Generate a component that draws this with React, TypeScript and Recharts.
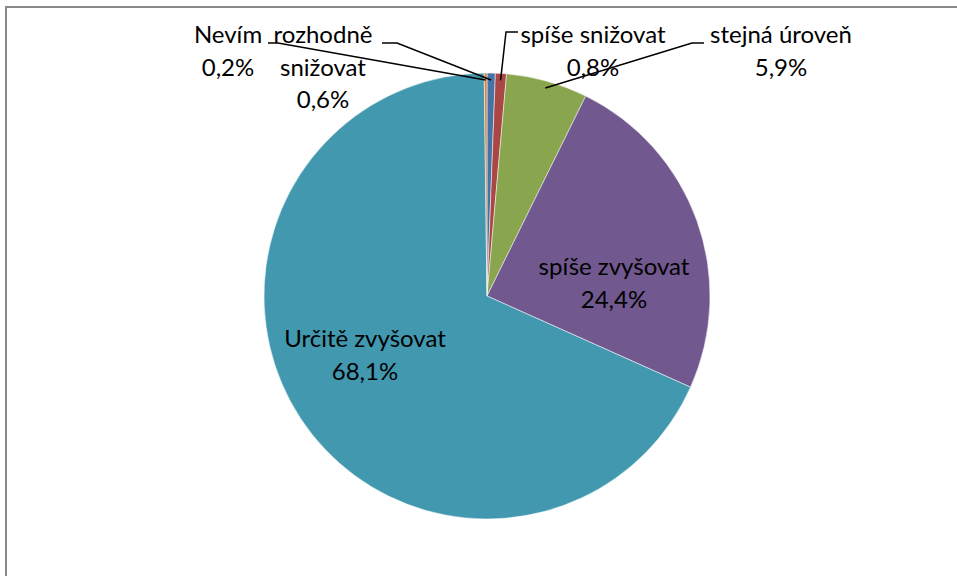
import { PieChart, Pie, Cell } from "recharts"

const categories = [
  "rozhodně snižovat",
  "spíše snižovat",
  "stejná úroveň",
  "spíše zvyšovat",
  "Určitě zvyšovat",
  "Nevím",
]
const shares = [0.6, 0.8, 5.9, 24.4, 68.1, 0.2]

const sliceColors = ["#4572A7", "#AA4643", "#89A54E", "#71588F", "#4198AF", "#DB843D"]

const chartData = categories.map((name, i) => ({ name, value: shares[i] }))

// where each label sits, relative to the pie centre; hook = short leader segment [x1, y1, x2, y2]
const labelLayout = [
  { dx: -164, dy: -253, wrap: true, hook: [-105, -253, -90, -253] },
  { dx: 106, dy: -253, wrap: false, hook: [31, -264, 19, -264] },
  { dx: 294, dy: -253, wrap: false, hook: [217, -253, 205, -253] },
  { dx: 127, dy: -21, wrap: false, hook: null },
  { dx: -122, dy: 51, wrap: false, hook: null },
  { dx: -259, dy: -253, wrap: false, hook: [-219, -253, -209, -253] },
]

const RAD = Math.PI / 180
const LINE_H = 32.5

const fmtPct = (v: number) => `${v.toFixed(1).replace(".", ",")}%`

function renderLabel(props: any) {
  const { cx, cy, midAngle, outerRadius, index, name, value } = props
  const lay = labelLayout[index]
  const words: string[] = lay.wrap ? name.split(" ") : [name]
  const lines = [...words, fmtPct(value)]
  const tx = cx + lay.dx
  const ty = cy + lay.dy

  let leader = null
  if (lay.hook) {
    const r = outerRadius - 7
    const ex = cx + r * Math.cos(-midAngle * RAD)
    const ey = cy + r * Math.sin(-midAngle * RAD)
    const [x1, y1, x2, y2] = lay.hook
    const pts = `${cx + x1},${cy + y1} ${cx + x2},${cy + y2} ${ex},${ey}`
    leader = <polyline points={pts} fill="none" stroke="#000" strokeWidth={1.5} />
  }

  return (
    <g key={`lbl-${index}`}>
      {leader}
      <text x={tx} y={ty} textAnchor="middle" fill="#000" fontSize={24} fontFamily="Lato, 'Open Sans', sans-serif">
        {lines.map((ln, i) => (
          <tspan key={i} x={tx} dy={i === 0 ? 0 : LINE_H}>
            {ln}
          </tspan>
        ))}
      </text>
    </g>
  )
}

export default function App() {
  return (
    <div
      style={{
        position: "absolute",
        left: 0,
        top: 0,
        width: 957,
        height: 576,
        overflow: "hidden",
        background: "#fff",
      }}
    >
      <div
        style={{
          position: "absolute",
          left: 5,
          top: 6,
          width: 1000,
          height: 700,
          borderLeft: "2px solid #888",
          borderTop: "2px solid #888",
        }}
      />
      <div style={{ position: "absolute", left: 0, top: 0 }}>
        <PieChart width={957} height={576} margin={{ top: 0, right: 0, bottom: 0, left: 0 }}>
          <Pie
            data={chartData}
            dataKey="value"
            nameKey="name"
            cx={487}
            cy={296}
            outerRadius={223}
            startAngle={90}
            endAngle={-270}
            stroke="#fff"
            strokeWidth={0.5}
            label={renderLabel}
            labelLine={false}
            isAnimationActive={false}
          >
            {chartData.map((d, i) => (
              <Cell key={d.name} fill={sliceColors[i]} />
            ))}
          </Pie>
        </PieChart>
      </div>
    </div>
  )
}
